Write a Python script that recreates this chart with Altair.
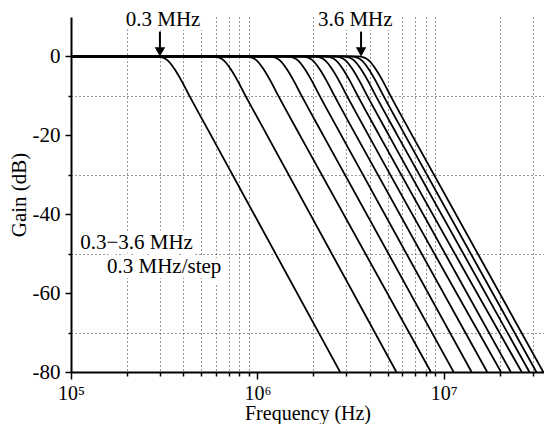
import altair as alt
import pandas as pd

# ---------------- data ----------------
CUTOFFS_MHZ = [0.3, 0.6, 0.9, 1.2, 1.5, 1.8, 2.1, 2.4, 2.7, 3.0, 3.3, 3.6]

# gain levels (dB) at which each curve's frequency was read
LEVELS_DB = [0, 0, -0.3, -1, -3, -6, -10, -20, -80]

# frequency (MHz) of each curve at each of those levels
F_START = [0.1] * 12
F_0DB = [0.288, 0.576, 0.864, 1.152, 1.44, 1.728, 2.016, 2.304, 2.592, 2.88, 3.168, 3.456]
F_03DB = [0.312, 0.624, 0.936, 1.248, 1.56, 1.872, 2.184, 2.496, 2.808, 3.12, 3.432, 3.744]
F_1DB = [0.33, 0.66, 0.99, 1.32, 1.65, 1.98, 2.31, 2.64, 2.97, 3.3, 3.63, 3.96]
F_3DB = [0.357, 0.714, 1.071, 1.428, 1.785, 2.142, 2.499, 2.856, 3.213, 3.57, 3.927, 4.284]
F_6DB = [0.39, 0.78, 1.17, 1.56, 1.95, 2.34, 2.73, 3.12, 3.51, 3.9, 4.29, 4.68]
F_10DB = [0.432, 0.864, 1.296, 1.728, 2.16, 2.592, 3.024, 3.456, 3.888, 4.32, 4.752, 5.184]
F_20DB = [0.564, 1.128, 1.692, 2.256, 2.82, 3.384, 3.948, 4.512, 5.076, 5.64, 6.204, 6.768]
F_80DB = [2.78, 5.57, 8.53, 11.3, 14.1, 17.1, 20.3, 22.9, 26.2, 28.8, 31.4, 34.2]

X_TICKS = [1e5, 2e5, 3e5, 4e5, 5e5, 6e5, 7e5, 8e5, 9e5,
           1e6, 2e6, 3e6, 4e6, 5e6, 6e6, 7e6, 8e6, 9e6,
           1e7, 2e7, 3e7]
Y_TICKS = [-80, -70, -60, -50, -40, -30, -20, -10, 0]

TOP_LABELS = ["0.3 MHz", "3.6 MHz"]
TOP_LABEL_F = [3.12e5, 3.35e6]
TOP_LABEL_G = [7.6, 7.6]

ARROW_F = [3e5, 3.6e6]
ARROW_TOP_G = [6.3, 6.3]
ARROW_BASE_G = [2.2, 2.2]
ARROW_HEAD_G = [1.15, 1.15]

NOTE_LINES = ["0.3\u22123.6 MHz", "0.3 MHz/step"]
NOTE_F = [1.12e5, 1.56e5]
NOTE_G = [-48.8, -54.8]

# ---------------- tables ----------------
cols = [F_START, F_0DB, F_03DB, F_1DB, F_3DB, F_6DB, F_10DB, F_20DB, F_80DB]
rows = []
for i, fc in enumerate(CUTOFFS_MHZ):
    for k, (lvl, col) in enumerate(zip(LEVELS_DB, cols)):
        rows.append({"curve": fc, "order": k, "f": col[i] * 1e6, "g": lvl})
curves = pd.DataFrame(rows)

top = pd.DataFrame({"f": TOP_LABEL_F, "g": TOP_LABEL_G, "label": TOP_LABELS})
arrows = pd.DataFrame({"f": ARROW_F, "g": ARROW_TOP_G, "g2": ARROW_BASE_G, "gh": ARROW_HEAD_G})
notes = pd.DataFrame({"f": NOTE_F, "g": NOTE_G, "label": NOTE_LINES})

FONT = "Liberation Serif"
major_x = "datum.value == 100000 || datum.value == 1000000 || datum.value == 10000000"

x_axis = alt.Axis(
    values=X_TICKS,
    title="Frequency (Hz)",
    labelExpr="datum.value == 100000 ? '10\u2075' : datum.value == 1000000 ? '10\u2076' : datum.value == 10000000 ? '10\u2077' : ''",
    labelFlush=False,
    labelOverlap=False,
    labelPadding=4,
    labelFontSize=20,
    titleFontSize=20,
    tickSize={"condition": {"test": major_x, "value": 7}, "value": 4},
    grid=True,
    gridDash=[1, 3],
    gridColor="#333333",
    gridWidth=1,
    gridOpacity={"condition": {"test": major_x, "value": 0}, "value": 1},
    titlePadding=0,
)
y_axis = alt.Axis(
    values=Y_TICKS,
    title="Gain (dB)",
    labelExpr="datum.value % 20 == 0 ? '' + datum.value : ''",
    labelPadding=5,
    labelFontSize=21,
    titleFontSize=21,
    tickSize={"condition": {"test": "datum.value % 20 == 0", "value": 6}, "value": 3},
    grid=True,
    gridDash=[1, 3],
    gridColor="#333333",
    gridWidth=1,
    gridOpacity={"condition": {"test": "datum.value % 20 == 0", "value": 0}, "value": 1},
    titlePadding=3,
)

x_enc = alt.X("f:Q", scale=alt.Scale(type="log", domain=[1e5, 3.45e7], nice=False), axis=x_axis)
y_enc = alt.Y("g:Q", scale=alt.Scale(domain=[-80, 10], nice=False), axis=y_axis)

lines = alt.Chart(curves).mark_line(
    color="black", strokeWidth=1.8, interpolate="monotone", clip=True
).encode(x=x_enc, y=y_enc, detail="curve:N", order="order:Q")

top_halo = alt.Chart(top).mark_text(
    font=FONT, fontSize=21, align="center", baseline="alphabetic",
    color="white", stroke="white", strokeWidth=8
).encode(x="f:Q", y="g:Q", text="label:N")
top_text = alt.Chart(top).mark_text(
    font=FONT, fontSize=21, align="center", baseline="alphabetic", color="black"
).encode(x="f:Q", y="g:Q", text="label:N")

note_halo = alt.Chart(notes).mark_text(
    font=FONT, fontSize=21, align="left", baseline="alphabetic",
    color="white", stroke="white", strokeWidth=10
).encode(x="f:Q", y="g:Q", text="label:N")
note_text = alt.Chart(notes).mark_text(
    font=FONT, fontSize=21, align="left", baseline="alphabetic", color="black"
).encode(x="f:Q", y="g:Q", text="label:N")

shaft = alt.Chart(arrows).mark_rule(color="black", strokeWidth=2).encode(
    x="f:Q", y="g:Q", y2="g2"
)
head = alt.Chart(arrows).mark_point(
    shape="triangle-down", filled=True, color="black", size=110, opacity=1
).encode(x="f:Q", y=alt.Y("gh:Q"))

chart = alt.layer(
    lines, note_halo, note_text, top_halo, top_text, shaft, head
).properties(
    width=473, height=355,
    autosize=alt.AutoSizeParams(type="none"),
    padding={"left": 63, "top": 9, "right": 0, "bottom": 52},
).configure_view(stroke=None).configure_axis(
    labelFont=FONT, titleFont=FONT,
    titleFontWeight="normal", labelColor="black", titleColor="black",
    domainColor="black", domainWidth=2, tickColor="black", tickWidth=1.5,
)

chart.save("out.html", embed_options={"renderer": "svg", "actions": False})
